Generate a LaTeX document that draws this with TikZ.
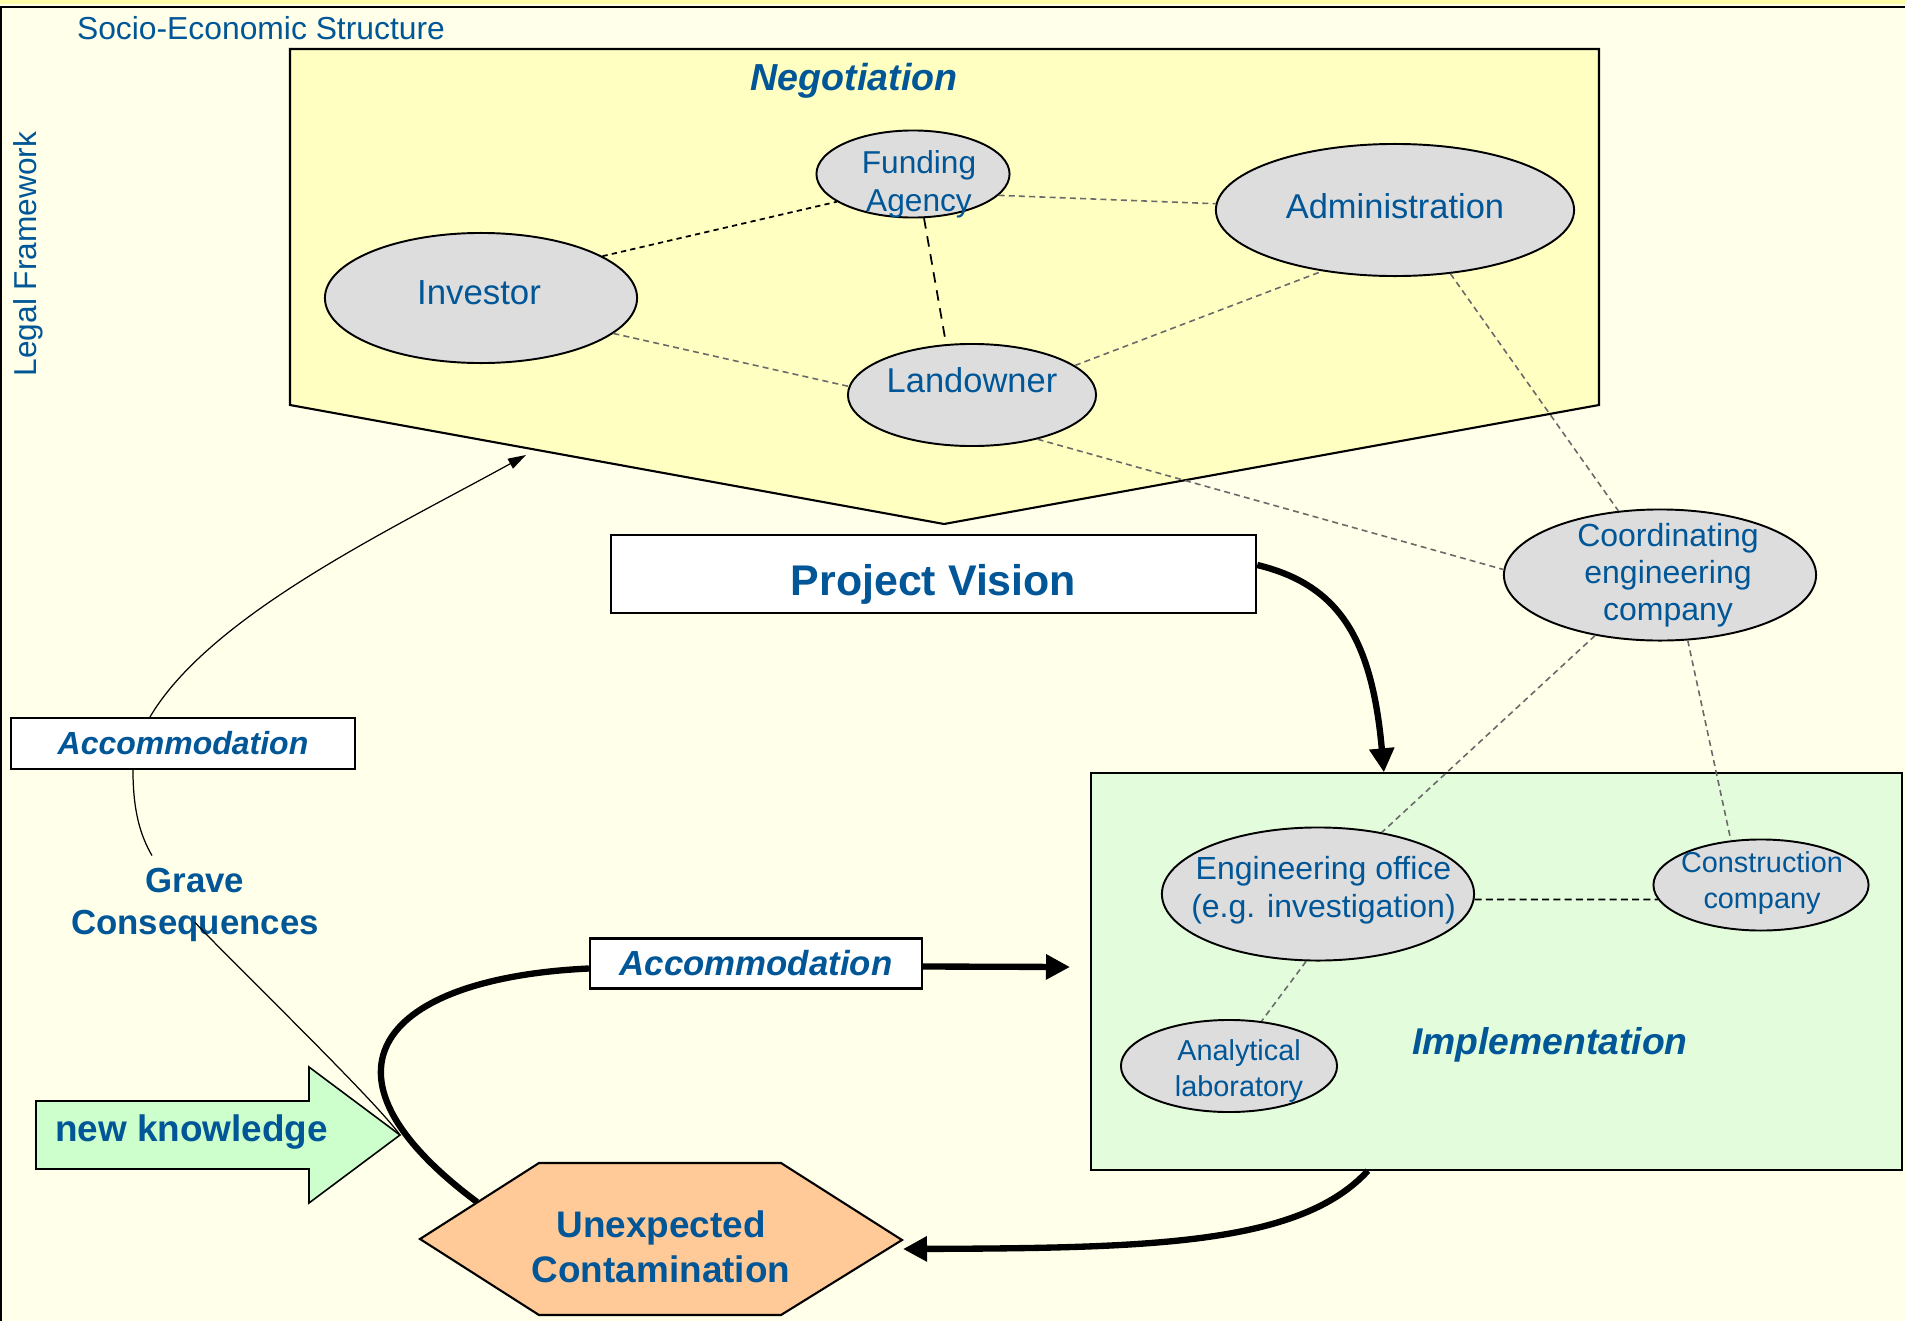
\documentclass[tikz,border=0pt]{standalone}
\usepackage{fontspec}
\setmainfont{Liberation Sans}
\usepackage{xcolor}
\usepackage{tikz}
\usetikzlibrary{calc, shapes.geometric, arrows.meta}

\definecolor{bgcream}{RGB}{255,255,234}
\definecolor{topstrip}{RGB}{255,255,170}
\definecolor{negyellow}{RGB}{255,255,194}
\definecolor{actorgray}{RGB}{221,221,221}
\definecolor{implgreen}{RGB}{227,253,220}
\definecolor{knowgreen}{RGB}{204,255,204}
\definecolor{contorange}{RGB}{255,202,152}
\definecolor{textblue}{RGB}{0,86,150}
\definecolor{dashgray}{RGB}{105,105,105}

\tikzset{
    actor/.style={ellipse, draw=black, line width=0.55pt, fill=actorgray, inner sep=0pt},
    actortext/.style={text=textblue, align=center, inner sep=0pt},
    plainbox/.style={draw=black, line width=0.6pt, fill=white, inner sep=0pt, text=textblue},
    title/.style={text=textblue, inner sep=0pt},
    link/.style={dashgray, line width=0.45pt, dash pattern=on 1.7pt off 1.2pt},
    blacklink/.style={black, line width=0.5pt, dash pattern=on 1.5pt off 1.2pt},
    flow/.style={line width=1.8pt},
    thinflow/.style={line width=0.35pt}
}

\begin{document}
\begin{tikzpicture}[x=0.01cm, y=-0.01cm, >={Triangle[length=0.24cm,width=0.24cm]}]
    % Hintergrund und Rahmen
    \useasboundingbox (0,0) rectangle (1905,1321);
    \fill[bgcream] (0,0) rectangle (1905,1321);
    \fill[topstrip] (0,0) rectangle (1905,4);
    \draw[line width=0.6pt] (1905,7) -- (1,7) -- (1,1321);
    \node[title, font=\fontsize{9.05}{11}\selectfont] (socio) at (261,28) {Socio-Economic Structure};
    \node[title, font=\fontsize{9}{11}\selectfont, rotate=90] (legal) at (28,254) {Legal Framework};

    % Verhandlung: Fuenfeck mit den Akteuren
    \draw[line width=0.6pt, fill=negyellow] (290,49) -- (1599,49) -- (1599,405) -- (944,524) -- (290,405) -- cycle;
    \node[title, font=\bfseries\itshape\fontsize{10.7}{13}\selectfont] (neg) at (854,81) {Negotiation};
    \coordinate (negtip) at (526,455);

    % Umsetzung
    \node[draw=black, line width=0.6pt, fill=implgreen, minimum width=8.11cm, minimum height=3.96cm, inner sep=0pt] (impl) at (1496.5,971.5) {};
    \node[title, font=\bfseries\itshape\fontsize{10.6}{13}\selectfont] (impltitle) at (1550,1045) {Implementation};

    % Akteure (Ellipsen)
    \node[actor, minimum width=1.93cm, minimum height=0.87cm,
        label={[actortext, font=\fontsize{9}{10.8}\selectfont, xshift=0.06cm, yshift=-0.1cm]center:Funding\\Agency}] (fund) at (913,174) {};
    \node[actor, minimum width=3.58cm, minimum height=1.32cm,
        label={[actortext, font=\fontsize{9.8}{11.8}\selectfont, yshift=0.04cm]center:Administration}] (admin) at (1395,210) {};
    \node[actor, minimum width=3.12cm, minimum height=1.30cm,
        label={[actortext, font=\fontsize{9.9}{11.8}\selectfont, xshift=-0.02cm, yshift=0.055cm]center:Investor}] (inv) at (481,298) {};
    \node[actor, minimum width=2.48cm, minimum height=1.02cm,
        label={[actortext, font=\fontsize{9.8}{11.8}\selectfont, yshift=0.15cm]center:Landowner}] (land) at (972,395) {};
    \node[actor, minimum width=3.12cm, minimum height=1.31cm,
        label={[actortext, font=\fontsize{9.1}{10.6}\selectfont, xshift=0.08cm]center:Coordinating\\engineering\\company}] (coord) at (1660,575) {};
    \node[actor, minimum width=3.12cm, minimum height=1.33cm,
        label={[actortext, font=\fontsize{9.1}{10.9}\selectfont, xshift=0.055cm, yshift=0.04cm]center:Engineering office\\(e.g. investigation)}] (engoff) at (1318,894) {};
    \node[actor, minimum width=2.15cm, minimum height=0.91cm,
        label={[actortext, font=\fontsize{8.2}{10.1}\selectfont, xshift=0.01cm, yshift=0.02cm]center:Construction\\company}] (constr) at (1761,885) {};
    \node[actor, minimum width=2.16cm, minimum height=0.92cm,
        label={[actortext, font=\fontsize{8.2}{10.1}\selectfont, xshift=0.1cm, yshift=-0.05cm]center:Analytical\\laboratory}] (lab) at (1229,1066) {};

    % Beziehungen zwischen den Akteuren
    \draw[blacklink] (inv.19) -- (fund.200);
    \draw[link] (fund.-14) -- (admin.178);
    \draw[blacklink, dash pattern=on 3pt off 2.2pt] (fund.-76) -- (land.117);
    \draw[link] (inv.-15) -- (land.176);
    \draw[link] (land.16) -- (admin.220);
    \draw[link] (admin.-49) -- (coord.123);
    \draw[link] (land.-34) -- (coord.178);
    \draw[link] (coord.223) -- (engoff.44);
    \draw[link] (coord.-67) -- (constr.124);
    \draw[blacklink, dash pattern=on 2pt off 1.2pt] (engoff.-2) -- (constr.-172);
    \draw[link] (engoff.260) -- (lab.54);

    % Projektvision und Anpassungen
    \node[plainbox, minimum width=6.45cm, minimum height=0.78cm, font=\bfseries\fontsize{12.2}{14}\selectfont,
        text height=0.42cm, text depth=0cm] (vision) at (933.5,574) {Project Vision};
    \node[plainbox, minimum width=3.44cm, minimum height=0.51cm, font=\bfseries\itshape\fontsize{9.1}{11}\selectfont] (accup) at (183,743.5) {Accommodation};
    \node[plainbox, minimum width=3.32cm, minimum height=0.50cm, font=\bfseries\itshape\fontsize{9.9}{12}\selectfont] (acclow) at (756,963.5) {Accommodation};
    \coordinate (implin) at (1070,967);

    % Neues Wissen und Kontamination
    \draw[line width=0.45pt, fill=knowgreen] (36,1101) -- (309,1101) -- (309,1067) -- (400,1135) -- (309,1203) -- (309,1169) -- (36,1169) -- cycle;
    \node[title, font=\bfseries\fontsize{10.5}{13}\selectfont] (know) at (191.5,1132) {new knowledge};
    \coordinate (knowtip) at (400,1135);
    \node[title, align=center, font=\bfseries\fontsize{9.9}{11.95}\selectfont] (grave) at (195,905) {Grave\\Consequences};
    \draw[line width=0.6pt, fill=contorange] (420,1239) -- (539,1163) -- (781,1163) -- (902,1240) -- (781,1315) -- (539,1315) -- cycle;
    \node[title, align=center, font=\bfseries\fontsize{10.5}{12.8}\selectfont] (cont) at (661,1247) {Unexpected\\Contamination};
    \coordinate (contL) at (477,1202);
    \coordinate (contR) at (903,1249);

    % Dicke Pfeile (Ablauf)
    \draw[flow, ->] ([yshift=0.09cm]vision.east) .. controls (1340,585) and (1372,640) .. ([xshift=-1.125cm]impl.north);
    \draw[flow, ->] ([xshift=-1.285cm]impl.south) .. controls (1300,1245) and (1150,1248) .. (contR);
    \draw[flow] (contL) .. controls (300,1070) and (385,978) .. ([yshift=-0.05cm]acclow.west);
    \draw[flow, ->] ([yshift=-0.03cm]acclow.east) -- (implin);

    % Duenne Linien (Folgen)
    \draw[thinflow, ->, >={Triangle[length=0.18cm,width=0.11cm]}] ([xshift=-0.33cm]accup.north) .. controls (211,614) and (394,528) .. (negtip);
    \draw[thinflow] ([xshift=-0.5cm]accup.south) .. controls (133,810) and (140,835) .. ([xshift=-0.43cm,yshift=0.12cm]grave.north);
    \draw[thinflow] (knowtip) .. controls (375,1100) and (235,965) .. ([yshift=0.2cm]grave.south);
\end{tikzpicture}
\end{document}
